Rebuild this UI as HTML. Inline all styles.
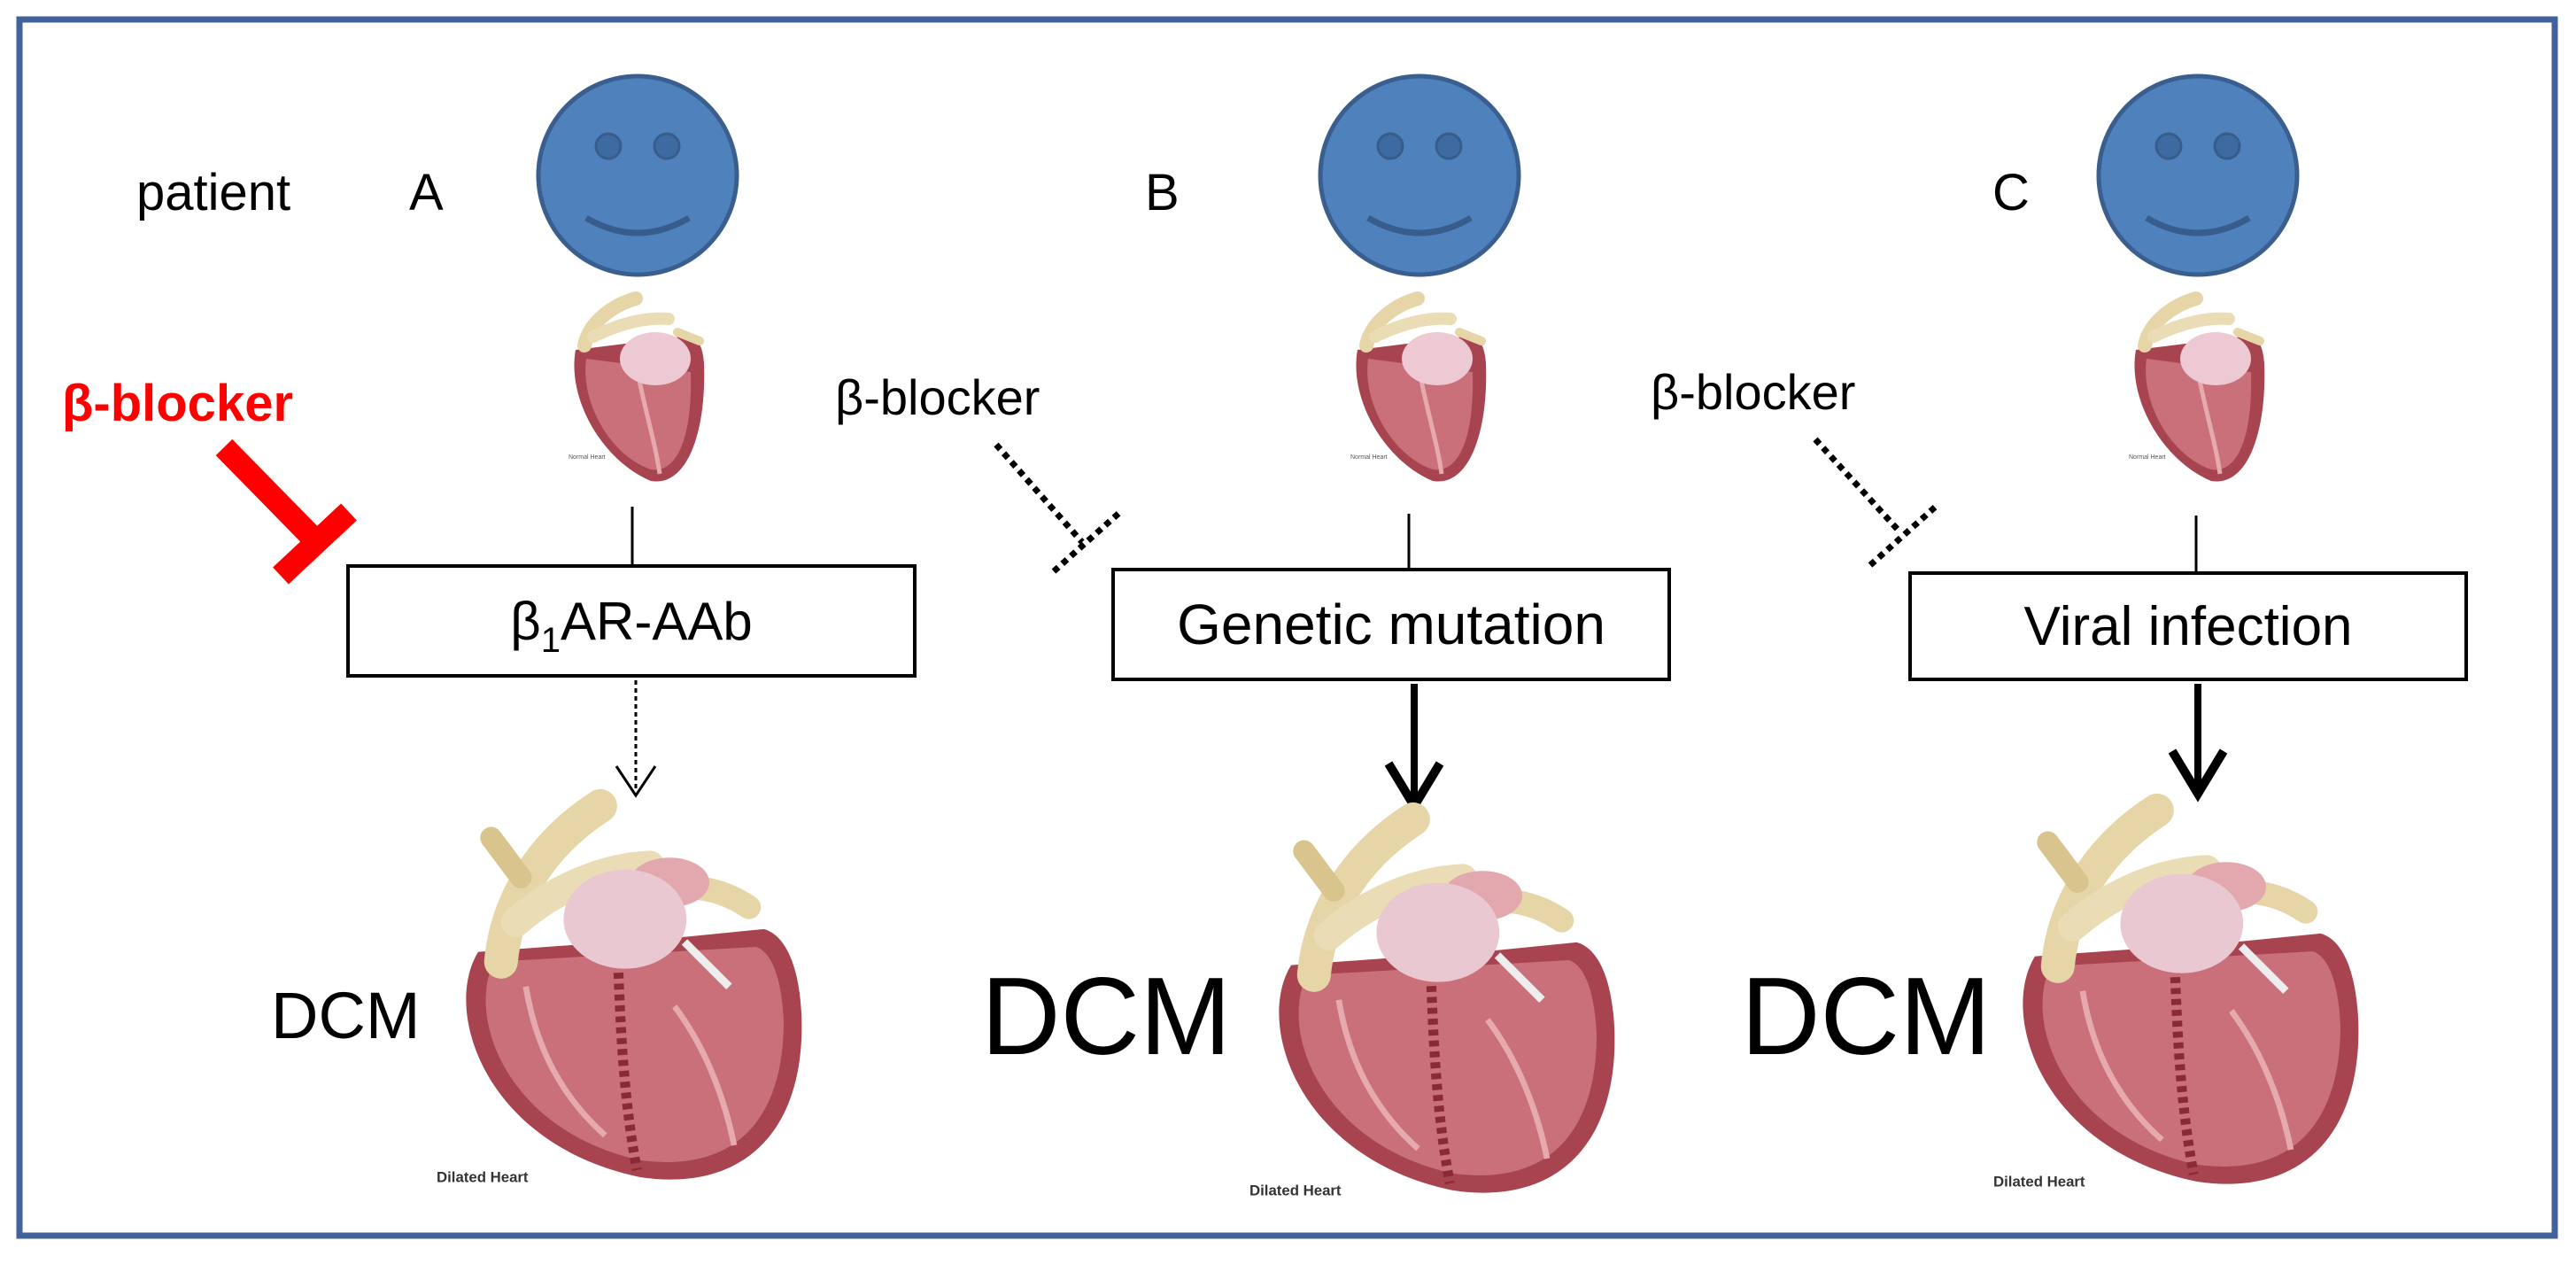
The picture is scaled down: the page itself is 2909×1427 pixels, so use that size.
<!DOCTYPE html>
<html><head><meta charset="utf-8"><style>
html,body{margin:0;padding:0;background:#fff;}
svg{display:block;}
text{font-family:"Liberation Sans",Arial,sans-serif;}
</style></head><body>
<svg width="2909" height="1427" viewBox="0 0 2909 1427" xmlns="http://www.w3.org/2000/svg">
<defs>
<g id="bigheart">
  <path d="M92,205 C55,265 100,400 255,432 C360,448 422,385 418,270 C416,220 402,188 380,182 L300,190 L92,205 Z" fill="#a8444f"/>
  <path d="M108,215 C80,270 120,385 255,415 C350,428 400,375 400,275 C398,232 388,205 372,200 L108,215 Z" fill="#c9707a"/>
  <path d="M233,215 C236,300 240,360 252,425" stroke="#8a2a35" stroke-width="10" stroke-dasharray="6 5" fill="none"/>
  <path d="M140,240 C150,300 175,350 220,390" stroke="#e6a9ae" stroke-width="6" fill="none"/>
  <path d="M290,260 C320,300 340,350 350,400" stroke="#e6a9ae" stroke-width="6" fill="none"/>
  <path d="M115,215 C120,160 150,100 215,58" stroke="#e6d5a6" stroke-width="34" fill="none" stroke-linecap="round"/>
  <path d="M130,175 C170,140 220,120 265,118" stroke="#eadcb4" stroke-width="30" fill="none" stroke-linecap="round"/>
  <path d="M105,90 L135,130" stroke="#d9c48e" stroke-width="22" stroke-linecap="round"/>
  <path d="M300,140 C330,140 350,150 365,160" stroke="#e6d5a6" stroke-width="24" fill="none" stroke-linecap="round"/>
  <ellipse cx="285" cy="135" rx="40" ry="25" fill="#e2a8ae"/>
  <ellipse cx="240" cy="172" rx="62" ry="50" fill="#eac8d2"/>
  <path d="M300,195 L345,240" stroke="#eee" stroke-width="8"/>
  <text x="50" y="437" font-size="15" font-weight="bold" fill="#333">Dilated Heart</text>
</g>
<g id="smallheart">
  <path d="M650,395 C640,450 680,520 735,543 C775,550 798,490 795,410 C793,385 785,378 770,380 L650,395 Z" fill="#a8444f"/>
  <path d="M662,405 C655,455 690,515 735,530 C768,535 782,485 780,420 L662,405 Z" fill="#c9707a"/>
  <path d="M720,420 C730,470 740,500 745,535" stroke="#e6a9ae" stroke-width="5" fill="none"/>
  <path d="M660,390 C665,365 690,345 718,337" stroke="#e6d5a6" stroke-width="16" fill="none" stroke-linecap="round"/>
  <path d="M670,380 C700,365 730,358 755,360" stroke="#eadcb4" stroke-width="14" fill="none" stroke-linecap="round"/>
  <path d="M765,375 L790,385" stroke="#e6d5a6" stroke-width="10" stroke-linecap="round"/>
  <ellipse cx="740" cy="405" rx="40" ry="30" fill="#ecc9d3"/>
  <text x="642" y="518" font-size="7" fill="#555">Normal Heart</text>
</g>
<g id="face">
  <circle cx="0" cy="0" r="112" fill="#4f81bd" stroke="#3a5f8f" stroke-width="5"/>
  <circle cx="-33" cy="-33" r="14" fill="#3d6aa0" stroke="#365d8c" stroke-width="3"/>
  <circle cx="33" cy="-33" r="14" fill="#3d6aa0" stroke="#365d8c" stroke-width="3"/>
  <path d="M-58,48 Q0,82 58,48" stroke="#365d8c" stroke-width="7" fill="none"/>
</g>
</defs>

<rect x="22" y="22" width="2863" height="1373" fill="none" stroke="#41629b" stroke-width="7"/>

<text x="154" y="237" font-size="58">patient</text>
<text x="462" y="237" font-size="58">A</text>
<text x="1293" y="237" font-size="58">B</text>
<text x="2250" y="237" font-size="58">C</text>

<use href="#face" x="720" y="198"/>
<use href="#face" x="1603" y="198"/>
<use href="#face" x="2482" y="198"/>

<use href="#smallheart"/>
<use href="#smallheart" x="883"/>
<use href="#smallheart" x="1762"/>

<line x1="714" y1="572" x2="714" y2="639" stroke="#000" stroke-width="3"/>
<line x1="1591" y1="580" x2="1591" y2="642" stroke="#000" stroke-width="3"/>
<line x1="2480" y1="582" x2="2480" y2="646" stroke="#000" stroke-width="3"/>

<rect x="393" y="639" width="640" height="124" fill="#fff" stroke="#000" stroke-width="4"/>
<text x="713" y="722" font-size="60" text-anchor="middle">β<tspan font-size="40" dy="14">1</tspan><tspan dy="-14">AR-AAb</tspan></text>
<rect x="1257" y="643" width="628" height="124" fill="#fff" stroke="#000" stroke-width="4"/>
<text x="1571" y="727" font-size="64" text-anchor="middle">Genetic mutation</text>
<rect x="2157" y="647" width="628" height="120" fill="#fff" stroke="#000" stroke-width="4"/>
<text x="2471" y="728" font-size="62" text-anchor="middle">Viral infection</text>

<line x1="718" y1="768" x2="718" y2="890" stroke="#000" stroke-width="3" stroke-dasharray="5 4"/>
<polyline points="696,865 718,898 740,865" fill="none" stroke="#000" stroke-width="3"/>
<line x1="1597" y1="772" x2="1597" y2="905" stroke="#000" stroke-width="8"/>
<polyline points="1568,862 1597,910 1626,862" fill="none" stroke="#000" stroke-width="10"/>
<line x1="2482" y1="772" x2="2482" y2="892" stroke="#000" stroke-width="8"/>
<polyline points="2453,848 2482,896 2511,848" fill="none" stroke="#000" stroke-width="10"/>

<use href="#bigheart" transform="translate(437,845) scale(1.12)"/>
<use href="#bigheart" transform="translate(1355,860) scale(1.12)"/>
<use href="#bigheart" transform="translate(2195,850) scale(1.12)"/>

<text x="306" y="1172" font-size="74">DCM</text>
<text x="1108" y="1190" font-size="124">DCM</text>
<text x="1966" y="1190" font-size="124">DCM</text>

<text x="70" y="475" font-size="58" font-weight="bold" fill="#ff0000">β-blocker</text>
<line x1="253" y1="505" x2="352" y2="606" stroke="#ff0000" stroke-width="26"/>
<line x1="317" y1="650" x2="394" y2="578" stroke="#ff0000" stroke-width="26"/>

<text x="943" y="468" font-size="56">β-blocker</text>
<line x1="1125" y1="502" x2="1222" y2="612" stroke="#000" stroke-width="7" stroke-dasharray="7 6"/>
<line x1="1190" y1="645" x2="1265" y2="578" stroke="#000" stroke-width="7" stroke-dasharray="7 6"/>

<text x="1864" y="462" font-size="56">β-blocker</text>
<line x1="2050" y1="496" x2="2145" y2="600" stroke="#000" stroke-width="7" stroke-dasharray="7 6"/>
<line x1="2112" y1="638" x2="2188" y2="570" stroke="#000" stroke-width="7" stroke-dasharray="7 6"/>
</svg>
</body></html>
